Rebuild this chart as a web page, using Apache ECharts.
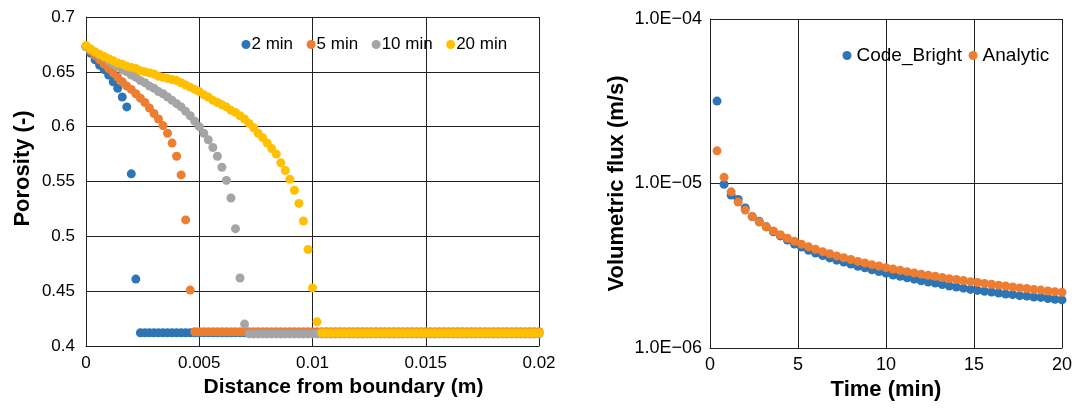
<!DOCTYPE html>
<html>
<head>
<meta charset="utf-8">
<script src="https://cdn.jsdelivr.net/npm/echarts@6/dist/echarts.min.js"></script>
<style>
html,body{margin:0;padding:0;background:#fff;}
#c{width:1078px;height:409px;}
</style>
</head>
<body>
<div id="c"></div>
<script>
// ---------- Left chart: porosity profiles ----------
const distance = [
0,0.0002,0.0004,0.0006,0.0008,0.001,0.0012,0.0014,0.0016,0.0018,
0.002,0.0022,0.0024,0.0026,0.0028,0.003,0.0032,0.0034,0.0036,0.0038,
0.004,0.0042,0.0044,0.0046,0.0048,0.005,0.0052,0.0054,0.0056,0.0058,
0.006,0.0062,0.0064,0.0066,0.0068,0.007,0.0072,0.0074,0.0076,0.0078,
0.008,0.0082,0.0084,0.0086,0.0088,0.009,0.0092,0.0094,0.0096,0.0098,
0.01,0.0102,0.0104,0.0106,0.0108,0.011,0.0112,0.0114,0.0116,0.0118,
0.012,0.0122,0.0124,0.0126,0.0128,0.013,0.0132,0.0134,0.0136,0.0138,
0.014,0.0142,0.0144,0.0146,0.0148,0.015,0.0152,0.0154,0.0156,0.0158,
0.016,0.0162,0.0164,0.0166,0.0168,0.017,0.0172,0.0174,0.0176,0.0178,
0.018,0.0182,0.0184,0.0186,0.0188,0.019,0.0192,0.0194,0.0196,0.0198,
0.02];

const por2min = [
0.673,0.667,0.661,0.656,0.652,0.647,0.641,0.635,0.627,0.618,0.557,0.461,
0.412,0.412,0.412,0.412,0.412,0.412,0.412,0.412,0.412,0.412,
0.412,0.412,0.412,0.412,0.412,0.412,0.412,0.412,0.412,0.412,
0.412,0.412,0.412,0.412,0.412,0.412,0.412,0.412,0.412,0.412,
0.412,0.412,0.412,0.412,0.412,0.412,0.412,0.412,0.412,0.412,
0.412,0.412,0.412,0.412,0.412,0.412,0.412,0.412,0.412,0.412,
0.412,0.412,0.412,0.412,0.412,0.412,0.412,0.412,0.412,0.412,
0.412,0.412,0.412,0.412,0.412,0.412,0.412,0.412,0.412,0.412,
0.412,0.412,0.412,0.412,0.412,0.412,0.412,0.412,0.412,0.412,
0.412,0.412,0.412,0.412,0.412,0.412,0.412,0.412,0.412];

const por5min = [
0.673,0.669,0.665,0.661,0.657,0.653,0.649,0.645,0.641,0.637,
0.634,0.630,0.626,0.622,0.617,0.612,0.607,0.601,0.594,0.585,
0.573,0.556,0.515,0.451,0.413,
0.413,0.413,0.413,0.413,0.413,0.413,0.413,0.413,0.413,0.413,
0.413,0.413,0.413,0.413,0.413,0.413,0.413,0.413,0.413,0.413,
0.413,0.413,0.413,0.413,0.413,0.413,0.413,0.413,0.413,0.413,
0.413,0.413,0.413,0.413,0.413,0.413,0.413,0.413,0.413,0.413,
0.413,0.413,0.413,0.413,0.413,0.413,0.413,0.413,0.413,0.413,
0.413,0.413,0.413,0.413,0.413,0.413,0.413,0.413,0.413,0.413,
0.413,0.413,0.413,0.413,0.413,0.413,0.413,0.413,0.413,0.413,
0.413,0.413,0.413,0.413,0.413,0.413];

const por10min = [
0.673,0.670,0.668,0.665,0.663,0.660,0.657,0.655,0.652,0.650,
0.647,0.645,0.642,0.640,0.637,0.635,0.632,0.630,0.627,0.624,
0.621,0.618,0.614,0.610,0.605,0.600,0.594,0.588,0.581,0.573,
0.563,0.551,0.535,0.507,0.462,0.420,
0.411,0.411,0.411,0.411,0.411,0.411,0.411,0.411,0.411,0.411,
0.411,0.411,0.411,0.411,0.411,0.411,0.411,0.411,0.411,0.411,
0.411,0.411,0.411,0.411,0.411,0.411,0.411,0.411,0.411,0.411,
0.411,0.411,0.411,0.411,0.411,0.411,0.411,0.411,0.411,0.411,
0.411,0.411,0.411,0.411,0.411,0.411,0.411,0.411,0.411,0.411,
0.411,0.411,0.411,0.411,0.411,0.411,0.411,0.411,0.411,0.411,
0.411,0.411,0.411,0.411,0.411];

const por20min = [
0.674,0.671,0.668,0.666,0.664,0.662,0.660,0.658,0.657,0.655,
0.654,0.653,0.651,0.650,0.649,0.648,0.646,0.645,0.644,0.643,
0.642,0.640,0.638,0.636,0.634,0.632,0.629,0.627,0.624,0.622,
0.620,0.618,0.615,0.613,0.610,0.607,0.603,0.599,0.594,0.590,
0.585,0.580,0.575,0.567,0.560,0.552,0.542,0.530,0.514,0.488,
0.453,0.422,
0.412,0.412,0.412,0.412,0.412,0.412,0.412,0.412,0.412,0.412,
0.412,0.412,0.412,0.412,0.412,0.412,0.412,0.412,0.412,0.412,
0.412,0.412,0.412,0.412,0.412,0.412,0.412,0.412,0.412,0.412,
0.412,0.412,0.412,0.412,0.412,0.412,0.412,0.412,0.412,0.412,
0.412,0.412,0.412,0.412,0.412,0.412,0.412,0.412,0.412];

const leftNames = ['2 min','5 min','10 min','20 min'];

// ---------- Right chart: volumetric flux ----------
const timeMin = [
0.4,0.8,1.2,1.6,2,2.4,2.8,3.2,3.6,4,
4.4,4.8,5.2,5.6,6,6.4,6.8,7.2,7.6,8,
8.4,8.8,9.2,9.6,10,10.4,10.8,11.2,11.6,12,
12.4,12.8,13.2,13.6,14,14.4,14.8,15.2,15.6,16,
16.4,16.8,17.2,17.6,18,18.4,18.8,19.2,19.6,20];

const fluxCodeBright = [
3.17e-5,9.9e-6,8.5e-6,8.0e-6,7.1e-6,6.29e-6,5.89e-6,5.45e-6,5.09e-6,4.80e-6,
4.53e-6,4.29e-6,4.11e-6,3.93e-6,3.78e-6,3.65e-6,3.53e-6,3.42e-6,3.33e-6,3.24e-6,
3.14e-6,3.07e-6,2.99e-6,2.92e-6,2.85e-6,2.78e-6,2.73e-6,2.67e-6,2.62e-6,2.56e-6,
2.52e-6,2.48e-6,2.43e-6,2.38e-6,2.35e-6,2.31e-6,2.27e-6,2.24e-6,2.21e-6,2.19e-6,
2.16e-6,2.13e-6,2.11e-6,2.08e-6,2.07e-6,2.04e-6,2.03e-6,2.00e-6,1.98e-6,1.96e-6];

const fluxAnalytic = [
1.58e-5,1.09e-5,8.90e-6,7.71e-6,6.89e-6,6.29e-6,5.83e-6,5.45e-6,5.14e-6,4.88e-6,
4.65e-6,4.45e-6,4.28e-6,4.12e-6,3.98e-6,3.85e-6,3.74e-6,3.63e-6,3.54e-6,3.45e-6,
3.36e-6,3.29e-6,3.21e-6,3.15e-6,3.08e-6,3.02e-6,2.97e-6,2.91e-6,2.86e-6,2.81e-6,
2.77e-6,2.73e-6,2.68e-6,2.64e-6,2.61e-6,2.57e-6,2.53e-6,2.50e-6,2.47e-6,2.44e-6,
2.41e-6,2.38e-6,2.35e-6,2.32e-6,2.30e-6,2.27e-6,2.25e-6,2.22e-6,2.20e-6,2.18e-6];

const rightNames = ['Code_Bright','Analytic'];
const fluxTickLabels = ['1.0E\u221206','1.0E\u221205','1.0E\u221204'];

// ---------- styles ----------
const FONT = "'Liberation Sans', Arial, sans-serif";
const cBlue = '#2E75B6', cOrange = '#ED7D31', cGray = '#A5A5A5', cYellow = '#FFC000';
const lineC = '#222';

const chart = echarts.init(document.getElementById('c'), null, {renderer:'canvas'});

function pairs(xs, ys){ return ys.map((y,i)=>[xs[i], y]); }

const leftSeriesData = [por2min, por5min, por10min, por20min];
const leftColors = [cBlue, cOrange, cGray, cYellow];

const series = [];
leftSeriesData.forEach((arr, k) => {
  series.push({
    name: leftNames[k], type:'scatter', xAxisIndex:0, yAxisIndex:0,
    symbol:'circle', symbolSize:9, itemStyle:{color:leftColors[k], opacity:1},
    data: pairs(distance, arr), animation:false
  });
});
series.push({
  name: rightNames[0], type:'scatter', xAxisIndex:1, yAxisIndex:1,
  symbol:'circle', symbolSize:9, itemStyle:{color:cBlue, opacity:1},
  data: pairs(timeMin, fluxCodeBright), animation:false
});
series.push({
  name: rightNames[1], type:'scatter', xAxisIndex:1, yAxisIndex:1,
  symbol:'circle', symbolSize:9, itemStyle:{color:cOrange, opacity:1},
  data: pairs(timeMin, fluxAnalytic), animation:false
});

const axisCommon = {
  axisLine:{show:true, onZero:false, lineStyle:{color:lineC, width:1}},
  axisTick:{show:false},
  splitLine:{show:true, lineStyle:{color:lineC, width:1}}
};

const option = {
  backgroundColor:'#fff',
  animation:false,
  textStyle:{fontFamily:FONT},
  grid:[
    {left:86, top:17, right:1078-539, bottom:409-346, containLabel:false},
    {left:710, top:19, right:1078-1062, bottom:409-348, containLabel:false}
  ],
  legend:[
    {data:leftNames, left:241.5, top:36, padding:0, orient:'horizontal', itemWidth:9, itemHeight:9, itemGap:13.5,
     icon:'circle', textStyle:{fontFamily:FONT, fontSize:17, color:'#000', padding:[0,0,0,-4]}},
    {data:rightNames, left:842.5, top:46, padding:0, orient:'horizontal', itemWidth:9, itemHeight:9, itemGap:6.5,
     icon:'circle', textStyle:{fontFamily:FONT, fontSize:19, color:'#000'}}
  ],
  xAxis:[
    Object.assign({}, axisCommon, {
      gridIndex:0, type:'value', min:0, max:0.02, interval:0.005,
      name:'Distance from boundary (m)', nameLocation:'middle', nameGap:30,
      nameTextStyle:{fontFamily:FONT, fontWeight:'bold', fontSize:21, color:'#000', padding:[0,0,0,62]},
      axisLabel:{fontFamily:FONT, fontSize:17, color:'#000', margin:9}
    }),
    Object.assign({}, axisCommon, {
      gridIndex:1, type:'value', min:0, max:20, interval:5,
      name:'Time (min)', nameLocation:'middle', nameGap:31,
      nameTextStyle:{fontFamily:FONT, fontWeight:'bold', fontSize:22, color:'#000'},
      axisLabel:{fontFamily:FONT, fontSize:18, color:'#000', margin:8}
    })
  ],
  yAxis:[
    Object.assign({}, axisCommon, {
      gridIndex:0, type:'value', min:0.4, max:0.7, interval:0.05,
      name:'Porosity (-)', nameLocation:'middle', nameGap:52,
      nameTextStyle:{fontFamily:FONT, fontWeight:'bold', fontSize:22, color:'#000', padding:[0,0,0,26]},
      axisLabel:{fontFamily:FONT, fontSize:17, color:'#000', margin:11}
    }),
    Object.assign({}, axisCommon, {
      gridIndex:1, type:'log', logBase:10, min:1e-6, max:1e-4,
      name:'Volumetric flux (m/s)', nameLocation:'middle', nameGap:82,
      nameTextStyle:{fontFamily:FONT, fontWeight:'bold', fontSize:22, color:'#000'},
      axisLabel:{fontFamily:FONT, fontSize:18, color:'#000', margin:8,
        formatter:function(v){
          const e = Math.round(Math.log10(v));
          return fluxTickLabels[e + 6] !== undefined ? fluxTickLabels[e + 6] : '';
        }}
    })
  ],
  series: series
};
chart.setOption(option);
</script>
</body>
</html>
